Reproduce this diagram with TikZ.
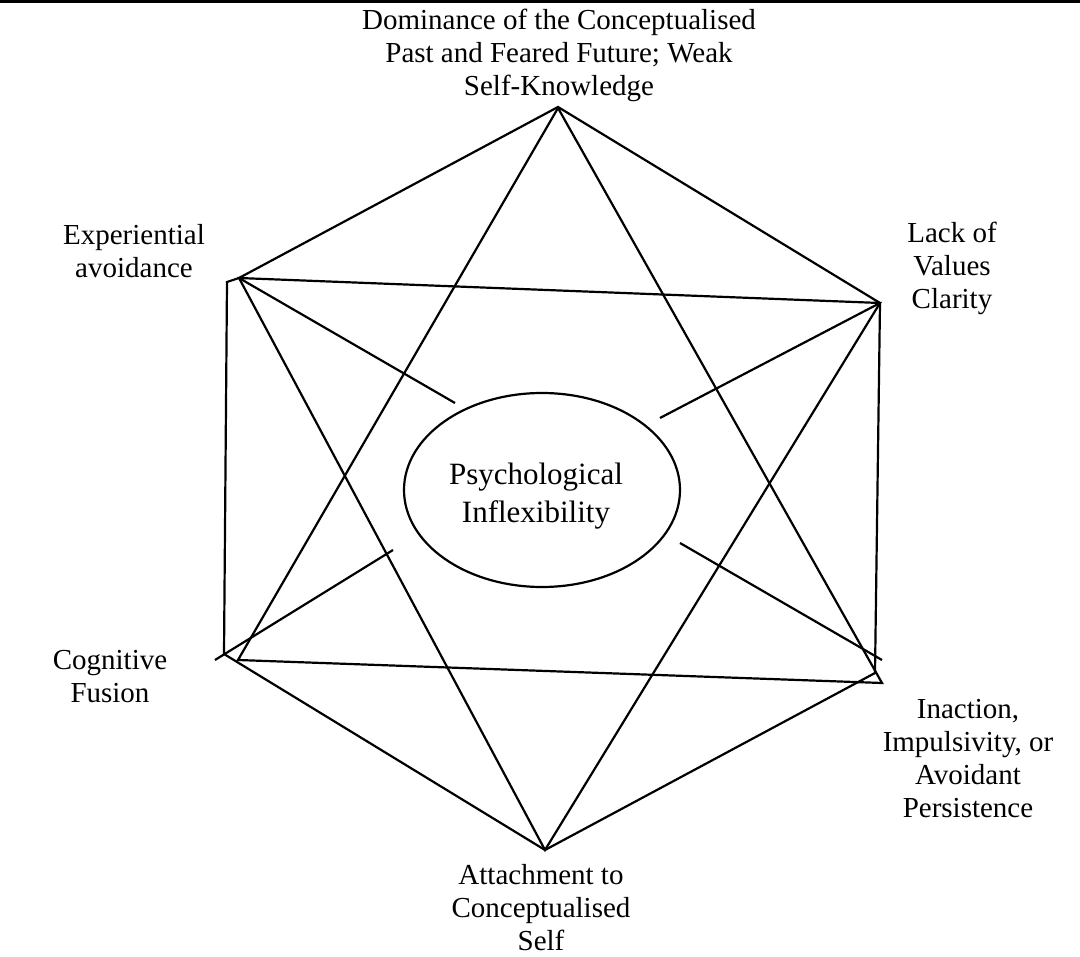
\documentclass[tikz,border=0pt]{standalone}
\usepackage{fontspec}
\setmainfont{Liberation Serif}
\usetikzlibrary{shapes.geometric}
\begin{document}
\begin{tikzpicture}[x=1pt,y=-1pt,
  edge/.style={draw=black,line width=2.2pt,line join=miter},
  lbl/.style={align=center,inner sep=0pt,font=\fontsize{29}{33}\selectfont}]
\useasboundingbox[fill=white] (0,0) rectangle (1080,957);
\fill[black] (0,0) rectangle (1080,3);
% hexagon vertices
\coordinate (h1) at (558,107);
\coordinate (h2) at (880,303);
\coordinate (h3) at (875,673);
\coordinate (h4) at (545,850);
\coordinate (h5) at (224,654);
\coordinate (h6) at (227,282);
% triangle vertices
\coordinate (t1) at (558,108);
\coordinate (t2) at (238,660);
\coordinate (t3) at (882,683);
\coordinate (u1) at (239,278);
\coordinate (u2) at (880,303);
\coordinate (u3) at (545,850);
% spoke ends
\coordinate (s1) at (455,403);
\coordinate (s2) at (660,418);
\coordinate (s3a) at (393,550);
\coordinate (s3b) at (215,660);
\coordinate (s4a) at (680,543);
\coordinate (s4b) at (882,660);
\draw[edge] (h1) -- (h2) -- (h3) -- (h4) -- (h5) -- (h6) -- (u1) -- cycle;
\draw[edge] (t1) -- (t2) -- (t3) -- cycle;
\draw[edge] (u1) -- (u2) -- (u3) -- cycle;
\draw[edge] (u1) -- (s1);
\draw[edge] (u2) -- (s2);
\draw[edge] (s3a) -- (s3b);
\draw[edge] (s4a) -- (s4b);
\node[ellipse,draw=black,line width=2.2pt,fill=white,minimum width=276pt,minimum height=194pt,inner sep=0pt] (pi) at (542,490) {};
\node[align=center,inner sep=0pt,font=\fontsize{31}{38}\selectfont] (pit) at (536,496) {Psychological\\Inflexibility};
\node[lbl] (l1) at (559,55) {Dominance of the Conceptualised\\Past and Feared Future; Weak\\Self-Knowledge};
\node[lbl] (l2) at (134,251) {Experiential\\avoidance};
\node[lbl] (l3) at (952,268) {Lack of\\Values\\Clarity};
\node[lbl] (l4) at (110,677) {Cognitive\\Fusion};
\node[lbl] (l5) at (968,759) {Inaction,\\Impulsivity, or\\Avoidant\\Persistence};
\node[lbl] (l6) at (541,908) {Attachment to\\Conceptualised\\Self};
\end{tikzpicture}
\end{document}
